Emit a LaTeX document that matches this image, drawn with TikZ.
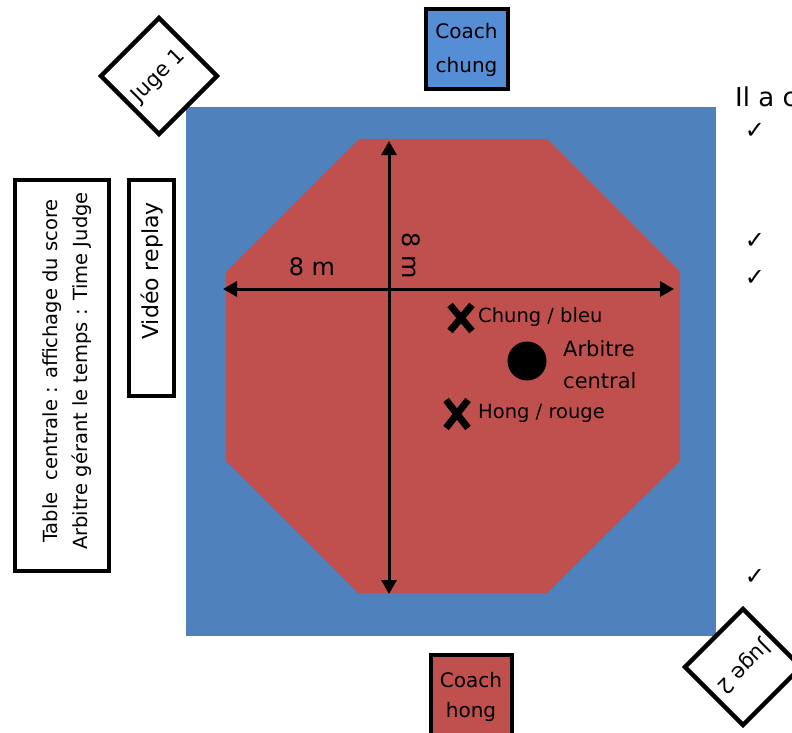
\documentclass[tikz,border=0pt]{standalone}
\usepackage{fontspec}
\setmainfont{DejaVu Sans}
\usetikzlibrary{arrows.meta}
\definecolor{matblue}{HTML}{4F81BD}
\definecolor{matred}{HTML}{C0504D}
\definecolor{coachblue}{HTML}{558ED5}
\begin{document}
\begin{tikzpicture}[x=1pt,y=-1pt,
  lbl/.style={inner sep=0pt},
  boxed/.style={draw=black, line width=4pt, rectangle, inner sep=0pt, align=center},
  judge/.style={draw=black, line width=4.5pt, rectangle, fill=white, minimum width=82pt, minimum height=82pt, inner sep=0pt, font=\fontsize{21}{24}\selectfont},
  dimarrow/.style={line width=3pt, -{Triangle[length=14pt,width=15pt]}},
  cross/.style={line width=7pt},
  check/.style={font=\fontsize{24}{26}\selectfont, inner sep=0pt}]
\useasboundingbox (0,0) rectangle (792,733);
% mat
\fill[matblue] (186,107) rectangle (716,636);
\fill[matred] (359,139) -- (547,139) -- (680,272) -- (680,461) -- (547,593) -- (358,593) -- (226,461) -- (226,272) -- cycle;
% dimension arrows
\coordinate (hl) at (223,289);
\coordinate (hr) at (674,289);
\coordinate (vt) at (389,141);
\coordinate (vb) at (389,594);
\draw[dimarrow] (389,289) -- (hl);
\draw[dimarrow] (389,289) -- (hr);
\draw[dimarrow] (389,289) -- (vt);
\draw[dimarrow] (389,289) -- (vb);
\node[lbl, font=\fontsize{24}{26}\selectfont] (hlab) at (312,267) {8 m};
\node[lbl, font=\fontsize{24}{26}\selectfont, rotate=-90] (vlab) at (411,256) {8 m};
% competitors
\draw[cross] (450,305) -- (472,331) (472,305) -- (450,331);
\draw[cross] (446,400) -- (468,428) (468,400) -- (446,428);
\node[lbl, anchor=west, font=\fontsize{19.5}{22}\selectfont] (chung) at (478,317) {Chung / bleu};
\node[lbl, anchor=west, font=\fontsize{19.5}{22}\selectfont] (hong) at (478,413) {Hong / rouge};
\fill[black] (527,361) circle (19.5);
\node[lbl, anchor=west, font=\fontsize{21}{24}\selectfont] (arb1) at (563,349) {Arbitre};
\node[lbl, anchor=west, font=\fontsize{21}{24}\selectfont] (arb2) at (563,381) {central};
% coaches
\node[boxed, fill=coachblue, minimum width=82pt, minimum height=80pt, font=\fontsize{20}{34}\selectfont] (cchung) at (466.5,49.5) {Coach\\chung};
\node[boxed, fill=matred, minimum width=81pt, minimum height=84pt, font=\fontsize{20}{30}\selectfont] (chong) at (471,697) {Coach\\hong};
% judges
\node[judge, rotate=45] (j1) at (159,76) {Juge 1};
\node[judge, rotate=225] (j2) at (743,667) {Juge 2};
% side tables
\node[boxed, rotate=90, minimum width=391pt, minimum height=94pt] (table) at (61.5,375) {};
\node[lbl, rotate=90, align=center, font=\fontsize{19.5}{30}\selectfont] (tabletext) at (67,371) {Table\ \ centrale : affichage du score\\Arbitre gérant le temps : Time Judge};
\node[boxed, rotate=90, minimum width=216pt, minimum height=45pt] (video) at (151,288) {};
\node[lbl, rotate=90, font=\fontsize{22}{24}\selectfont] (videotext) at (152,271) {Vidéo replay};
% right text
\node[lbl, anchor=west, font=\fontsize{26}{28}\selectfont] (ila) at (735,97) {Il a c};
\node[check] (c1) at (755,131) {✓};
\node[check] (c2) at (755,241) {✓};
\node[check] (c3) at (755,278) {✓};
\node[check] (c4) at (755,577) {✓};
\end{tikzpicture}
\end{document}
